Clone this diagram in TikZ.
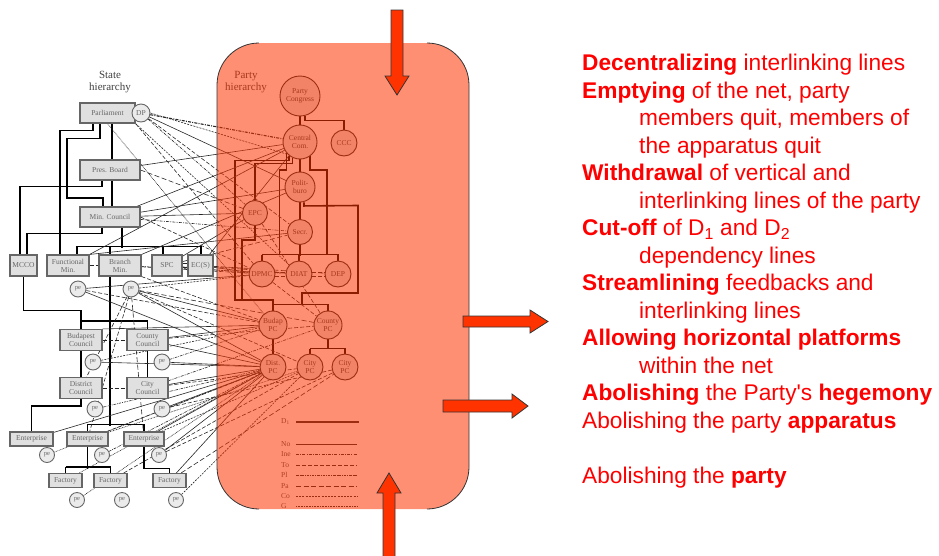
\documentclass[tikz,border=0pt]{standalone}
\usepackage{fontspec}
\setmainfont{Liberation Serif}
\newfontfamily\arialf{Liberation Sans}
\definecolor{ovl}{RGB}{255,51,0}
\definecolor{arrowred}{RGB}{255,51,0}
\definecolor{txtred}{RGB}{255,0,0}
\pgfdeclarelayer{bg}
\pgfdeclarelayer{fg}
\pgfsetlayers{bg,main,fg}
\tikzset{
 sbox/.style={draw=black!60, line width=1.1pt, fill=black!12, inner sep=0pt, font=\fontsize{7.5}{8}\selectfont, text=black!60, align=center},
 pe/.style={circle, draw=black!60, line width=0.9pt, fill=black!8, inner sep=0pt, minimum size=16pt, font=\fontsize{6.5}{6.5}\selectfont, text=black!60},
 pnode/.style={circle, draw=black!85, line width=0.9pt, fill=black!10, inner sep=0pt, font=\fontsize{7.5}{8}\selectfont, text=black!75, align=center},
 hdr/.style={font=\fontsize{11}{11.5}\selectfont, text=black!75, align=center, inner sep=0pt},
 lg/.style={font=\fontsize{7.5}{7.5}\selectfont, text=black!70, anchor=west, inner sep=0pt},
 tree/.style={line width=1.6pt, black},
 lk/.style={line width=0.6pt, black!85},
 lnNo/.style={lk},
 lnIne/.style={lk, dash pattern=on 3pt off 1.2pt on 1pt off 1.2pt},
 lnTo/.style={lk, dash pattern=on 4pt off 2pt},
 lnPl/.style={lk, dash pattern=on 2.5pt off 1pt on 0.8pt off 1pt},
 lnPa/.style={lk, dash pattern=on 5pt off 2.5pt},
 lnCo/.style={lk, dash pattern=on 2pt off 1.2pt},
 lnG/.style={lk, dash pattern=on 0.8pt off 0.8pt},
 bigarrow/.style={fill=arrowred, draw=black!80, line width=0.8pt, line join=miter},
 rt/.style={anchor=base west, inner sep=0pt, text=txtred, font=\arialf\fontsize{22.7}{27}\selectfont},
}
\begin{document}
\begin{tikzpicture}[x=1pt,y=-1pt]
\useasboundingbox (0,0) rectangle (939,555);

% ---------------- state hierarchy nodes
\node[hdr] (sth) at (110,82) {State\\hierarchy};
\node[sbox, minimum width=55pt, minimum height=20pt] (parl) at (107.5,113) {Parliament};
\node[pe, minimum size=18pt, font=\fontsize{7.5}{7.5}\selectfont] (dp) at (141,113) {DP};
\node[sbox, minimum width=60pt, minimum height=20pt] (pres) at (110,170) {Pres. Board};
\node[sbox, minimum width=60pt, minimum height=20pt] (min) at (110,217) {Min. Council};
\node[sbox, minimum width=27pt, minimum height=21pt] (mcco) at (23.5,265.5) {MCCO};
\node[sbox, minimum width=42pt, minimum height=21pt] (func) at (68,265.5) {Functional\\Min.};
\node[sbox, minimum width=42pt, minimum height=21pt] (branch) at (120,265.5) {Branch\\Min.};
\node[sbox, minimum width=30pt, minimum height=21pt] (spc) at (167,265.5) {SPC};
\node[sbox, minimum width=25pt, minimum height=21pt] (ecs) at (200.5,265.5) {EC(S)};
\node[pe] (pe1) at (78,289) {pe};
\node[pe] (pe2) at (131,289) {pe};
\node[sbox, minimum width=42pt, minimum height=21pt] (budc) at (81,340) {Budapest\\Council};
\node[sbox, minimum width=41pt, minimum height=21pt] (cntc) at (147.5,340) {County\\Council};
\node[pe] (pe3) at (93,362) {pe};
\node[pe] (pe4) at (162,362) {pe};
\node[sbox, minimum width=42pt, minimum height=21pt] (distc) at (81,388) {District\\Council};
\node[sbox, minimum width=41pt, minimum height=21pt] (cityc) at (147.5,388) {City\\Council};
\node[pe] (pe5) at (95,409) {pe};
\node[pe] (pe6) at (162,409) {pe};
\node[sbox, minimum width=43pt, minimum height=14pt] (ent1) at (31.5,439) {Enterprise};
\node[sbox, minimum width=41pt, minimum height=14pt] (ent2) at (87.5,439) {Enterprise};
\node[sbox, minimum width=40pt, minimum height=14pt] (ent3) at (144,439) {Enterprise};
\node[pe, minimum size=15pt] (pe7) at (47,455) {pe};
\node[pe, minimum size=15pt] (pe8) at (102,455) {pe};
\node[pe, minimum size=15pt] (pe9) at (159,455) {pe};
\node[sbox, minimum width=33pt, minimum height=14pt] (fac1) at (65.5,480.5) {Factory};
\node[sbox, minimum width=33pt, minimum height=14pt] (fac2) at (110.5,480.5) {Factory};
\node[sbox, minimum width=33pt, minimum height=14pt] (fac3) at (169.5,480.5) {Factory};
\node[pe, minimum size=15pt] (pe10) at (77,500) {pe};
\node[pe, minimum size=15pt] (pe11) at (122,500) {pe};
\node[pe, minimum size=15pt] (pe12) at (176,500) {pe};

% ---------------- party hierarchy nodes
\node[hdr] (pth) at (246,82) {Party\\hierarchy};
\node[pnode, minimum size=40pt] (pcong) at (300,96) {Party\\Congress};
\node[pnode, minimum size=34pt] (cc) at (300,142) {Central\\Com.};
\node[pnode, minimum size=26pt] (ccc) at (344,143) {CCC};
\node[pnode, minimum size=30pt] (polit) at (300,187) {Polit-\\buro};
\node[pnode, minimum size=25pt] (epc) at (255,213) {EPC};
\node[pnode, minimum size=25pt] (secr) at (300,232) {Secr.};
\node[pnode, minimum size=26pt] (dpmc) at (262,274) {DPMC};
\node[pnode, minimum size=26pt] (diat) at (299,274) {DIAT};
\node[pnode, minimum size=26pt] (dep) at (338,274) {DEP};
\node[pnode, minimum size=28pt] (budpc) at (273,325) {Budap\\PC};
\node[pnode, minimum size=28pt] (cntpc) at (328,325) {County\\PC};
\node[pnode, minimum size=26pt] (distpc) at (273,367) {Dist.\\PC};
\node[pnode, minimum size=26pt] (citypc1) at (310,367) {City\\PC};
\node[pnode, minimum size=26pt] (citypc2) at (345,367) {City\\PC};

% ---------------- legend
\node[lg] (lD) at (281,422) {D\textsubscript{1}};
\draw[line width=1.8pt, black!85] (296,422) -- (359,422);
\node[lg] (lNo) at (281,444) {No};
\node[lg] (lIne) at (281,454) {Ine};
\node[lg] (lTo) at (281,465) {To};
\node[lg] (lPl) at (281,475) {Pl};
\node[lg] (lPa) at (281,486) {Pa};
\node[lg] (lCo) at (281,496) {Co};
\node[lg] (lG) at (281,506) {G};
\draw[lnNo, line width=1pt] (296,444) -- (357,444);
\draw[lnIne, line width=1pt] (296,454) -- (357,454);
\draw[lnTo, line width=1pt] (296,465) -- (357,465);
\draw[lnPl, line width=1pt] (296,475) -- (357,475);
\draw[lnPa, line width=1pt] (296,486) -- (357,486);
\draw[lnCo, line width=1pt] (296,496) -- (357,496);
\draw[lnG, line width=1pt] (296,506) -- (357,506);

\begin{pgfonlayer}{bg}
% state tree
\draw[tree] ([xshift=-14.5pt]parl.south) -- ++(0,7) -| ([xshift=-8pt]func.north);
\draw[tree] ([xshift=-7.5pt]parl.south) -- ++(0,15) -| (67,198) -| ([xshift=-7pt]min.north);
\draw[tree] ([xshift=4.5pt]parl.south) -- ([xshift=2pt]pres.north);
\draw[tree] ([xshift=2pt]pres.south) -- ([xshift=2pt]min.north);
\draw[tree] ([xshift=-8pt]pres.south) -- ++(0,6) -| ([xshift=-3.5pt]mcco.north);
\draw[tree] ([xshift=-8pt]min.south) -- ++(0,6) -| ([xshift=3.5pt]mcco.north);
\draw[tree] ([xshift=12pt]min.south) -- ++(0,20);
\draw[tree] ([xshift=9pt]func.north) -- ++(0,-8) -| ([xshift=0.5pt]ecs.north);
\draw[tree] ([xshift=-10pt]branch.north) -- ++(0,-8);
\draw[tree] ([xshift=-4pt]spc.north) -- ++(0,-8);
\draw[tree] (mcco.south) -- ++(0,34) -| (budc.north);
\draw[tree] (budc.north) ++(0,-8) -| (cntc.north);
\draw[tree] ([xshift=-10pt]branch.south) -- ++(0,149);
\draw[tree] (ent2.north) ++(0,-7) -| (ent3.north);
\draw[tree] (ent2.north) -- ++(0,-7);
\draw[tree] (budc) -- (distc);
\draw[tree] (cntc) -- (cityc);
\draw[tree] (distc.south) -- ++(0,7) -| (ent1.north);
\draw[tree] (ent2.south) -- ++(0,22);
\draw[tree] (fac1.north) ++(0,-6) -| (fac2.north);
\draw[tree] (fac1.north) -- ++(0,-6);
\draw[tree] (ent3.south) -- ++(0,22) -| (fac3.north);
% party tree
\draw[tree] (pcong) -- (cc);
\draw[tree] ([xshift=5pt]pcong.south) -- ++(0,4) -| (ccc.north);
\draw[tree] (cc) -- (polit);
\draw[tree] (polit) -- (secr);
\draw[tree] (secr.south) -- ++(0,11);
\draw[tree] (dpmc.north) ++(0,-6) -| (dep.north);
\draw[tree] (dpmc.north) -- ++(0,-6);
\draw[tree] (diat.north) -- ++(0,-6);
\draw[tree] (cc.-128) -- ++(0,4.6) -| (235,300) -| (budpc.north);
\draw[tree] (cc.-115) -- ++(0,5.6) -| (epc.north);
\draw[tree] (cc.-140) -- ++(0,17) -- ++(-7,0) -- ++(0,85);
\draw[tree] (cc.-55) -- ++(0,14) -- ++(17,0) -- ++(0,85);
\draw[tree] ([xshift=4pt]polit.south) -- ++(0,3.5) -- (358,205.5) -- (358,293) -- (302,293) -- (302,305);
\draw[tree] (budpc.north) ++(0,-6) -| (cntpc.north);
\draw[tree] (budpc) -- (distpc);
\draw[tree] (cntpc.south) -- ++(0,10);
\draw[tree] (citypc1.north) ++(0,-5) -| (citypc2.north);
\draw[tree] (citypc1.north) -- ++(0,-5);
\draw[tree] (epc.south) -- ++(0,14) -| (242,300);
% sibling links
\draw[lnTo] ([yshift=2pt]dpmc.east) -- ([yshift=2pt]diat.west);
\draw[lnTo] ([yshift=-2pt]dpmc.east) -- ([yshift=-2pt]diat.west);
\draw[lnTo] ([yshift=2pt]diat.east) -- ([yshift=2pt]dep.west);
\draw[lnTo] ([yshift=-2pt]diat.east) -- ([yshift=-2pt]dep.west);
\draw[lnTo] ([yshift=2pt]spc.east) -- ([yshift=2pt]ecs.west);
\draw[lnTo] ([yshift=-2pt]spc.east) -- ([yshift=-2pt]ecs.west);
\draw[lnTo] (func) -- (branch);
\draw[lnTo] (budc) -- (cntc);
\draw[lnTo] (distc) -- (cityc);
% interlinking lines
\draw[lnIne, line width=1.1pt] (dp) -- (cc);
\draw[lnCo] (dp.east) -- (cc.south west);
\draw[lnNo] (dp) -- (polit);
\draw[lnTo] (dp) -- (secr);
\draw[lnPl] (dp) -- (epc);
\draw[lnTo] (parl.south east) -- (dpmc);
\draw[lnG] (parl.south) -- (budpc);
\draw[lnCo] (parl.south east) -- (diat);
\draw[lnNo] (pres) -- (cc);
\draw[lnPa] (pres.east) -- (epc);
\draw[lnNo] (min) -- (cc);
\draw[lnNo] (min) -- (polit);
\draw[lnIne] (min) -- (secr);
\draw[lnNo] (min) -- (epc);
\draw[lnTo] (min.east) -- (dpmc);
\draw[lnNo] (func.north east) -- (cc);
\draw[lnNo] (func.north east) -- (secr);
\draw[lnNo] (branch.north east) -- (polit);
\draw[lnTo] (branch) -- (dpmc);
\draw[lnPl] (branch) -- (diat);
\draw[lnTo] (branch.south east) -- (budpc);
\draw[lnNo] (spc) -- (epc);
\draw[lnCo] (spc) -- (dpmc);
\draw[lnPa] (spc) -- (secr);
\draw[lnNo] (ecs) -- (dpmc);
\draw[lnTo] (ecs) -- (diat);
\draw[lnPa] (ecs) -- (dep);
\draw[lnNo] (ecs) -- (cc);
\draw[lnNo] (pe1) -- (distpc);
\draw[lnTo] (pe1) -- (budpc);
\draw[lnNo] (pe1) -- (dpmc);
\draw[lnNo] (pe2) -- (distpc);
\draw[lnCo] (pe2) -- (dpmc);
\draw[lnPa] (pe2) -- (cntpc);
\draw[lnNo] (pe2) -- (budpc);
\draw[lnTo] (pe2) -- (citypc1);
\draw[lnTo] (pe2) -- (ent2);
\draw[lnPa] (pe2) -- (ent3);
\draw[lnTo] (pe2) -- (distc);
\draw[lnNo] (budc.north east) -- (budpc);
\draw[lnTo] (cntc) -- (cntpc);
\draw[lnNo] (cntc) -- (budpc);
\draw[lnNo] (cntc) -- (distpc);
\draw[lnNo] (pe3) -- (distpc);
\draw[lnCo] (pe3) -- (budpc);
\draw[lnNo] (pe4) -- (distpc);
\draw[lnPl] (pe4) -- (budpc);
\draw[lnTo] (cityc) -- (citypc1);
\draw[lnNo] (cityc) -- (distpc);
\draw[lnIne] (cityc) -- (cntpc);
\draw[lnPl] (pe5) -- (distpc);
\draw[lnNo] (pe6) -- (distpc);
\draw[lnTo] (pe6) -- (citypc2);
\draw[lnNo] (ent1) -- (distpc);
\draw[lnTo] (ent2) -- (distpc);
\draw[lnNo] (ent3) -- (distpc);
\draw[lnCo] (ent3) -- (citypc1);
\draw[lnG] (ent2) -- (citypc1);
\draw[lnG] (pe7) -- (distpc);
\draw[lnPl] (pe8) -- (distpc);
\draw[lnTo] (pe9) -- (citypc2);
\draw[lnNo] (pe9) -- (distpc);
\draw[lnG] (fac1) -- (distpc);
\draw[lnTo] (fac2) -- (citypc1);
\draw[lnPa] (fac3) -- (citypc2);
\draw[lnNo] (fac3) -- (distpc);
\draw[lnG] (pe10) -- (distpc);
\draw[lnCo] (pe12) -- (citypc1);
\draw[lnTo] (dpmc) -- (cntpc);
\draw[lnTo] (epc) -- (cntpc);
\end{pgfonlayer}

\begin{pgfonlayer}{fg}
% overlay box
\fill[ovl, fill opacity=0.55, rounded corners=42pt] (217,43) rectangle (469,509);
\draw[black!80, line width=0.8pt, rounded corners=42pt] (259,43) -- (217,43) -- (217,509) -- (259,509);
\draw[black!80, line width=0.8pt, rounded corners=42pt] (427,43) -- (469,43) -- (469,509) -- (427,509);
% arrows
\draw[bigarrow] (391,10) -- (403,10) -- (403,76) -- (409,76) -- (397,95) -- (385,76) -- (391,76) -- cycle;
\draw[bigarrow] (383,557) -- (383,493) -- (377,493) -- (389,473) -- (401,493) -- (395,493) -- (395,557);
\draw[bigarrow] (463,316) -- (530,316) -- (530,310) -- (548,321.5) -- (530,333) -- (530,327) -- (463,327) -- cycle;
\draw[bigarrow] (443,400) -- (512,400) -- (512,394) -- (528,406) -- (512,418) -- (512,412) -- (443,412) -- cycle;
% right text
\node[rt] (r0) at (582,70.5) {\textbf{Decentralizing} interlinking lines};
\node[rt] (r1) at (582,98) {\textbf{Emptying} of the net, party};
\node[rt] (r2) at (639,125.5) {members quit, members of};
\node[rt] (r3) at (639,153) {the apparatus quit};
\node[rt] (r4) at (582,180.5) {\textbf{Withdrawal} of vertical and};
\node[rt] (r5) at (639,208) {interlinking lines of the party};
\node[rt] (r6) at (582,235.5) {\textbf{Cut-off} of D\textsubscript{1} and D\textsubscript{2}};
\node[rt] (r7) at (639,263) {dependency lines};
\node[rt] (r8) at (582,290.5) {\textbf{Streamlining} feedbacks and};
\node[rt] (r9) at (639,318) {interlinking lines};
\node[rt] (r10) at (582,345.5) {\textbf{Allowing horizontal platforms}};
\node[rt] (r11) at (639,373) {within the net};
\node[rt] (r12) at (582,400.5) {\textbf{Abolishing} the Party's \textbf{hegemony}};
\node[rt] (r13) at (582,428) {Abolishing the party \textbf{apparatus}};
\node[rt] (r14) at (582,483.5) {Abolishing the \textbf{party}};
\end{pgfonlayer}
\end{tikzpicture}
\end{document}
